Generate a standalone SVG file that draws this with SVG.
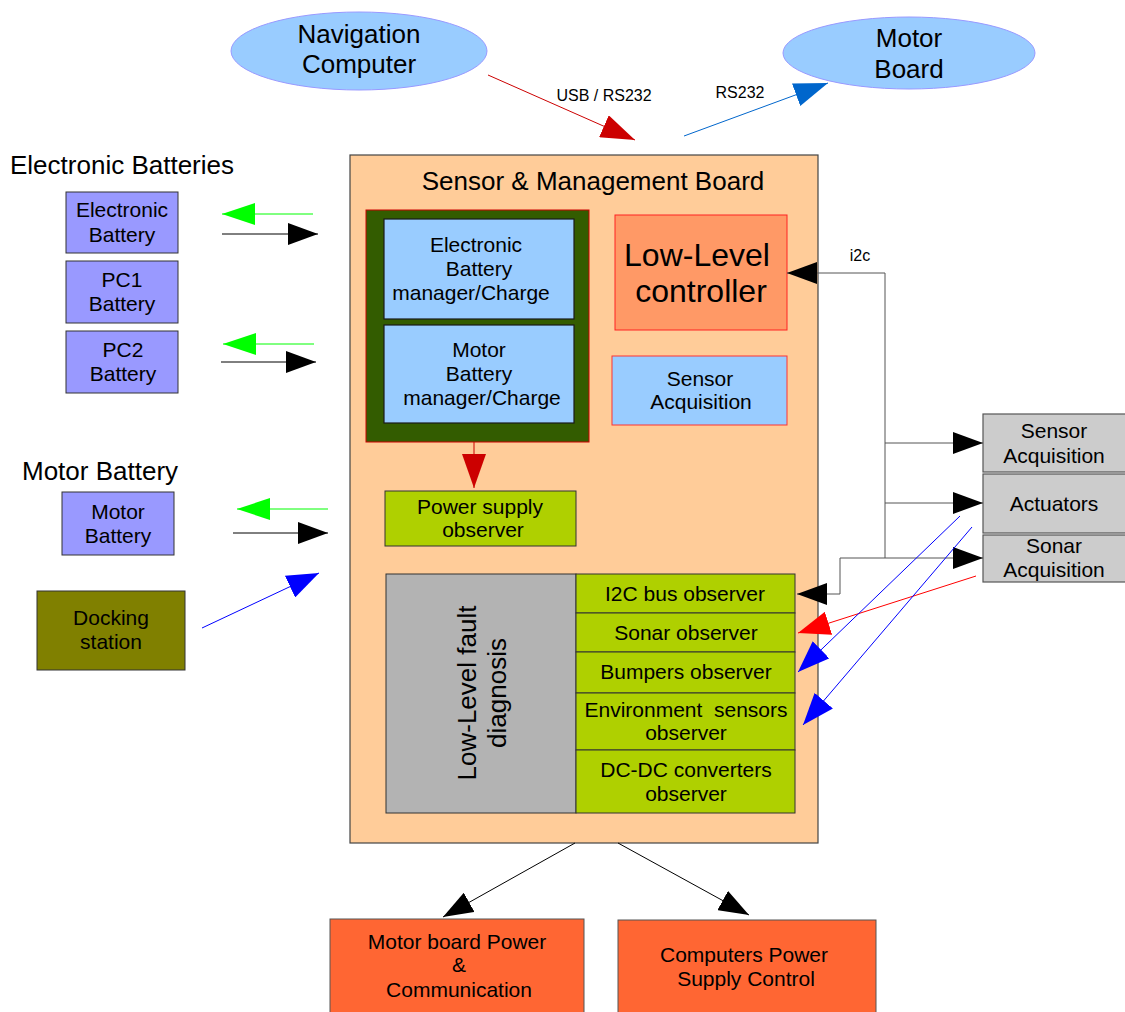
<svg xmlns="http://www.w3.org/2000/svg" width="1125" height="1012" viewBox="0 0 1125 1012">
<style>
text{font-family:"Liberation Sans",Arial,sans-serif;fill:#000;text-anchor:middle}
.t26{font-size:26px}
.t21{font-size:21px}
.t16{font-size:16px}
.t32{font-size:32px}
.box{stroke:#333;stroke-width:1}
.ell{fill:#99ccff;stroke:#9999ff;stroke-width:1}
.bat{fill:#9999ff}
.obs{fill:#afd000}
.gray{fill:#cccccc;stroke:#555;stroke-width:1.2}
.pwr{fill:#ff6633;stroke:#555;stroke-width:1}
.ln{fill:none;stroke-width:1}
</style>
<defs>
<marker id="mBlack" markerUnits="userSpaceOnUse" viewBox="0 0 30 22" refX="30" refY="11" markerWidth="30" markerHeight="22" orient="auto"><path d="M0,0 L30,11 L0,22 z" fill="#000"/></marker>
<marker id="mGreen" markerUnits="userSpaceOnUse" viewBox="0 0 33 22" refX="33" refY="11" markerWidth="33" markerHeight="22" orient="auto"><path d="M0,0 L33,11 L0,22 z" fill="#00ff00"/></marker>
<marker id="mBlue" markerUnits="userSpaceOnUse" viewBox="0 0 32 24" refX="32" refY="12" markerWidth="32" markerHeight="24" orient="auto"><path d="M0,0 L32,12 L0,24 z" fill="#0000ff"/></marker>
<marker id="mRed" markerUnits="userSpaceOnUse" viewBox="0 0 32 24" refX="32" refY="12" markerWidth="32" markerHeight="24" orient="auto"><path d="M0,0 L32,12 L0,24 z" fill="#ff0000"/></marker>
<marker id="mDarkRed" markerUnits="userSpaceOnUse" viewBox="0 0 34 24" refX="34" refY="12" markerWidth="34" markerHeight="24" orient="auto"><path d="M0,0 L34,12 L0,24 z" fill="#cc0000"/></marker>
<marker id="mMidBlue" markerUnits="userSpaceOnUse" viewBox="0 0 34 24" refX="34" refY="12" markerWidth="34" markerHeight="24" orient="auto"><path d="M0,0 L34,12 L0,24 z" fill="#0066cc"/></marker>
</defs>

<g id="nav-computer">
<ellipse class="ell" cx="359" cy="51" rx="128" ry="39"/>
<text class="t26" x="359" y="43">Navigation</text>
<text class="t26" x="359" y="73">Computer</text>
</g>
<g id="motor-board">
<ellipse class="ell" cx="909" cy="53" rx="126" ry="36"/>
<text class="t26" x="909" y="47">Motor</text>
<text class="t26" x="909" y="78">Board</text>
</g>

<g id="electronic-batteries-label"><text class="t26" x="10" y="174" style="text-anchor:start">Electronic Batteries</text></g>
<g id="electronic-battery">
<rect class="box bat" x="66" y="192" width="112" height="61"/>
<text class="t21" x="122" y="217">Electronic</text>
<text class="t21" x="122" y="242">Battery</text>
</g>
<g id="pc1-battery">
<rect class="box bat" x="66" y="261" width="112" height="62"/>
<text class="t21" x="122" y="287">PC1</text>
<text class="t21" x="122" y="311">Battery</text>
</g>
<g id="pc2-battery">
<rect class="box bat" x="66" y="331" width="112" height="62"/>
<text class="t21" x="123" y="357">PC2</text>
<text class="t21" x="123" y="381">Battery</text>
</g>
<g id="motor-battery-label"><text class="t26" x="22" y="480" style="text-anchor:start">Motor Battery</text></g>
<g id="motor-battery">
<rect class="box bat" x="62" y="492" width="112" height="63"/>
<text class="t21" x="118" y="519">Motor</text>
<text class="t21" x="118" y="543">Battery</text>
</g>
<g id="docking-station">
<rect class="box" fill="#808000" x="37" y="591" width="148" height="79"/>
<text class="t21" x="111" y="625">Docking</text>
<text class="t21" x="111" y="649">station</text>
</g>

<g id="sensor-management-board">
<rect x="350" y="155" width="468" height="688" fill="#ffcc99" stroke="#444" stroke-width="1.2"/>
<text class="t26" x="593" y="190">Sensor &amp; Management Board</text>
</g>
<g id="battery-managers">
<rect x="366" y="210" width="223" height="232" fill="#335c00" stroke="#cc0000" stroke-width="1"/>
</g>
<g id="electronic-battery-manager">
<rect x="384" y="219" width="190" height="100" fill="#99ccff" stroke="#1a1a1a" stroke-width="1.2"/>
<text class="t21" x="476" y="252">Electronic</text>
<text class="t21" x="479" y="276">Battery</text>
<text class="t21" x="471" y="300">manager/Charge</text>
</g>
<g id="motor-battery-manager">
<rect x="384" y="325" width="190" height="98" fill="#99ccff" stroke="#1a1a1a" stroke-width="1.2"/>
<text class="t21" x="479" y="357">Motor</text>
<text class="t21" x="479" y="381">Battery</text>
<text class="t21" x="482" y="405">manager/Charge</text>
</g>
<g id="low-level-controller">
<rect x="615" y="215" width="172" height="115" fill="#ff9966" stroke="#ff2222" stroke-width="1"/>
<text class="t32" x="697" y="266">Low-Level</text>
<text class="t32" x="701" y="302">controller</text>
</g>
<g id="sensor-acquisition-inner">
<rect x="612" y="356" width="175" height="69" fill="#99ccff" stroke="#ff3333" stroke-width="1"/>
<text class="t21" x="700" y="386">Sensor</text>
<text class="t21" x="701" y="409">Acquisition</text>
</g>
<g id="power-supply-observer">
<rect class="box obs" x="385" y="491" width="191" height="55"/>
<text class="t21" x="480" y="514">Power supply</text>
<text class="t21" x="483" y="537">observer</text>
</g>
<g id="fault-diagnosis">
<rect class="box" fill="#b3b3b3" x="386" y="574" width="190" height="239"/>
<text class="t26" x="476" y="693" transform="rotate(-90 476 693)">Low-Level fault</text>
<text class="t26" x="506" y="693" transform="rotate(-90 506 693)">diagnosis</text>
</g>
<g id="i2c-observer">
<rect class="box obs" x="576" y="574" width="219" height="39"/>
<text class="t21" x="685" y="601">I2C bus observer</text>
</g>
<g id="sonar-observer">
<rect class="box obs" x="576" y="613" width="219" height="39"/>
<text class="t21" x="686" y="640">Sonar observer</text>
</g>
<g id="bumpers-observer">
<rect class="box obs" x="576" y="652" width="219" height="41"/>
<text class="t21" x="686" y="679">Bumpers observer</text>
</g>
<g id="environment-observer">
<rect class="box obs" x="576" y="693" width="219" height="57"/>
<text class="t21" x="686" y="717" xml:space="preserve">Environment  sensors</text>
<text class="t21" x="686" y="740">observer</text>
</g>
<g id="dcdc-observer">
<rect class="box obs" x="576" y="750" width="219" height="63"/>
<text class="t21" x="686" y="777">DC-DC converters</text>
<text class="t21" x="686" y="801">observer</text>
</g>

<g id="ext-sensor-acquisition">
<rect class="gray" x="983" y="414" width="146" height="58"/>
<text class="t21" x="1054" y="438">Sensor</text>
<text class="t21" x="1054" y="463">Acquisition</text>
</g>
<g id="actuators">
<rect class="gray" x="983" y="474" width="146" height="59"/>
<text class="t21" x="1054" y="511">Actuators</text>
</g>
<g id="sonar-acquisition">
<rect class="gray" x="983" y="535" width="146" height="47"/>
<text class="t21" x="1054" y="553">Sonar</text>
<text class="t21" x="1054" y="577">Acquisition</text>
</g>

<g id="motor-board-power">
<rect class="pwr" x="330" y="919" width="254" height="100"/>
<text class="t21" x="457" y="949">Motor board Power</text>
<text class="t21" x="459" y="972">&amp;</text>
<text class="t21" x="459" y="997">Communication</text>
</g>
<g id="computers-power">
<rect class="pwr" x="618" y="920" width="258" height="100"/>
<text class="t21" x="744" y="962">Computers Power</text>
<text class="t21" x="746" y="986">Supply Control</text>
</g>

<g id="connectors">
<line class="ln" x1="488" y1="75" x2="635" y2="140" stroke="#cc0000" marker-end="url(#mDarkRed)"/>
<text class="t16" x="604" y="101">USB / RS232</text>
<line class="ln" x1="684" y1="136" x2="828" y2="83" stroke="#0066cc" marker-end="url(#mMidBlue)"/>
<text class="t16" x="740" y="98">RS232</text>

<line class="ln" x1="313" y1="214" x2="222" y2="214" stroke="#00ff00" marker-end="url(#mGreen)"/>
<line class="ln" x1="222" y1="234" x2="318" y2="234" stroke="#000" marker-end="url(#mBlack)"/>
<line class="ln" x1="314" y1="344" x2="223" y2="344" stroke="#00ff00" marker-end="url(#mGreen)"/>
<line class="ln" x1="221" y1="362" x2="316" y2="362" stroke="#000" marker-end="url(#mBlack)"/>
<line class="ln" x1="328" y1="509" x2="237" y2="509" stroke="#00ff00" marker-end="url(#mGreen)"/>
<line class="ln" x1="233" y1="533" x2="328" y2="533" stroke="#000" marker-end="url(#mBlack)"/>
<line class="ln" x1="202" y1="628" x2="319" y2="573" stroke="#0000ff" marker-end="url(#mBlue)"/>

<line class="ln" x1="474" y1="442" x2="474" y2="488" stroke="#cc0000" marker-end="url(#mDarkRed)"/>

<polyline class="ln" points="885,558 885,273 787,273" stroke="#555" marker-end="url(#mBlack)"/>
<text class="t16" x="860" y="261">i2c</text>
<line class="ln" x1="885" y1="443" x2="983" y2="443" stroke="#555" marker-end="url(#mBlack)"/>
<line class="ln" x1="885" y1="503" x2="983" y2="503" stroke="#555" marker-end="url(#mBlack)"/>
<line class="ln" x1="840" y1="558" x2="983" y2="558" stroke="#555" marker-end="url(#mBlack)"/>
<polyline class="ln" points="840,558 840,594 797,594" stroke="#555" marker-end="url(#mBlack)"/>

<line class="ln" x1="976" y1="576" x2="798" y2="633" stroke="#ff0000" marker-end="url(#mRed)"/>
<line class="ln" x1="960" y1="516" x2="798" y2="672" stroke="#0000ff" marker-end="url(#mBlue)"/>
<line class="ln" x1="972" y1="527" x2="803" y2="725" stroke="#0000ff" marker-end="url(#mBlue)"/>

<line class="ln" x1="575" y1="843" x2="443" y2="917" stroke="#000" marker-end="url(#mBlack)"/>
<line class="ln" x1="618" y1="843" x2="749" y2="915" stroke="#000" marker-end="url(#mBlack)"/>
</g>
</svg>
